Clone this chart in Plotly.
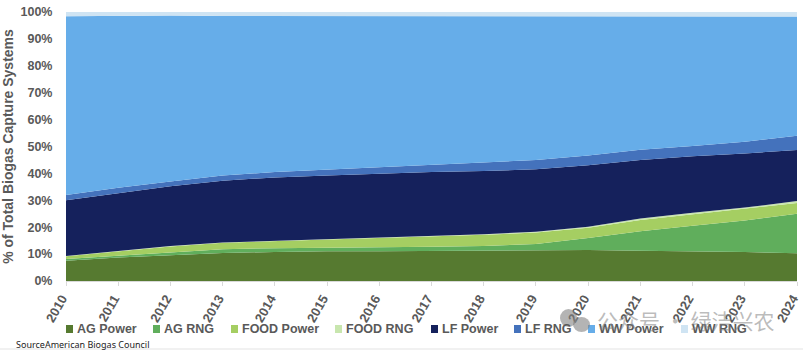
import plotly.graph_objects as go

years = [str(y) for y in range(2010, 2025)]
ag_power = [7.5, 8.7, 9.6, 10.4, 10.8, 11.1, 11.1, 11.2, 11.3, 11.5, 11.5, 11.2, 11.1, 10.8, 10.3]
ag_rng = [0.7, 0.7, 1.0, 1.4, 1.4, 1.2, 1.5, 1.5, 1.7, 2.3, 4.5, 7.3, 9.4, 11.7, 14.7]
food_power = [1.0, 1.6, 2.2, 2.4, 2.6, 3.1, 3.4, 3.8, 4.2, 4.2, 3.8, 4.2, 4.3, 4.3, 4.0]
food_rng = [0.1, 0.1, 0.2, 0.1, 0.1, 0.1, 0.1, 0.2, 0.2, 0.3, 0.4, 0.5, 0.6, 0.5, 0.7]
lf_power = [20.7, 21.6, 22.2, 23.0, 23.6, 23.7, 23.8, 23.8, 23.5, 23.2, 22.8, 21.8, 21.0, 20.1, 19.0]
lf_rng = [2.0, 2.0, 1.8, 1.9, 2.0, 2.2, 2.3, 2.5, 3.1, 3.5, 3.7, 3.8, 3.8, 4.4, 5.3]
ww_power = [66.4, 63.8, 61.7, 59.3, 58.0, 57.1, 56.3, 55.5, 54.4, 53.5, 51.8, 49.7, 48.3, 46.5, 44.3]
ww_rng = [1.6, 1.5, 1.3, 1.5, 1.5, 1.5, 1.5, 1.5, 1.6, 1.5, 1.5, 1.5, 1.5, 1.7, 1.7]

series = [
    ("AG Power", ag_power, "#567A30"),
    ("AG RNG", ag_rng, "#60AE5C"),
    ("FOOD Power", food_power, "#A5CE62"),
    ("FOOD RNG", food_rng, "#C8E6AE"),
    ("LF Power", lf_power, "#15215C"),
    ("LF RNG", lf_rng, "#4472BC"),
    ("WW Power", ww_power, "#66ADE9"),
    ("WW RNG", ww_rng, "#CFE4F3"),
]
tick_vals = list(range(0, 101, 10))
tick_text = [f"{v}%" for v in tick_vals]

GREY = "#595959"
FONT = "Liberation Sans"
PLOT_L, PLOT_T, PLOT_W, PLOT_H = 66, 12, 731, 269


def px(x):
    return (x - PLOT_L) / PLOT_W


def py(y):
    return (PLOT_T + PLOT_H - y) / PLOT_H


fig = go.Figure()
for name, vals, col in series:
    fig.add_trace(go.Scatter(
        x=years, y=vals, name=name, mode="lines", stackgroup="one", showlegend=False,
        line=dict(width=0, color=col), fillcolor=col,
    ))

# Legend drawn by hand: tiny squares sit closer to their labels than a native legend allows.
legend_x = [66, 153, 231, 335, 431, 514, 588, 681]
shapes = []
annotations = []
for (name, _, col), lx in zip(series, legend_x):
    shapes.append(dict(type="rect", xref="paper", yref="paper", x0=px(lx), x1=px(lx + 7),
                       y0=py(333), y1=py(325), fillcolor=col, line=dict(width=0)))
    annotations.append(dict(text=name, xref="paper", yref="paper", x=px(lx + 9), y=py(329),
                            xanchor="left", yanchor="middle", showarrow=False,
                            font=dict(size=12.5, family=FONT, color=GREY, weight="bold")))

shapes += [
    dict(type="line", xref="paper", yref="paper", x0=px(0), x1=px(803), y0=py(349), y1=py(349),
         line=dict(color="#E3E3E3", width=1)),
    dict(type="circle", xref="paper", yref="paper", x0=px(560), x1=px(577), y0=py(327), y1=py(309),
         fillcolor="rgba(130,130,130,0.6)", line=dict(width=0)),
    dict(type="circle", xref="paper", yref="paper", x0=px(573), x1=px(590), y0=py(332), y1=py(317),
         fillcolor="rgba(130,130,130,0.6)", line=dict(width=0)),
]
annotations += [
    dict(text="SourceAmerican Biogas Council", xref="paper", yref="paper", x=px(14), y=py(344),
         xanchor="left", yanchor="middle", showarrow=False,
         font=dict(size=9, family="Noto Sans", color="#222222")),
    dict(text="公众号 · 绿洁兴农", xref="paper", yref="paper", x=px(685), y=py(320), xanchor="center",
         yanchor="middle", showarrow=False,
         font=dict(size=21, family="Noto Sans CJK SC", color="rgba(130,130,130,0.55)")),
]

fig.update_layout(
    width=803, height=353, paper_bgcolor="white", plot_bgcolor="white",
    margin=dict(l=66, r=6, t=12, b=72, autoexpand=False),
    font=dict(family=FONT, color=GREY, size=13),
    showlegend=False,
    xaxis=dict(type="category", range=[0, 14], tickangle=-60, showgrid=False, automargin=False,
               showline=True, linecolor="#D9D9D9", ticks="outside", ticklen=4, tickcolor="#D9D9D9",
               ticklabelshift=-4,
               tickfont=dict(size=13, family=FONT, color=GREY, weight="bold")),
    yaxis=dict(range=[0, 100], tickvals=tick_vals, ticktext=tick_text, showgrid=False, automargin=False,
               zeroline=False, ticks="outside", ticklen=10, tickcolor="rgba(0,0,0,0)",
               tickfont=dict(size=12.5, family=FONT, color=GREY, weight="bold"),
               title=dict(text="% of Total Biogas Capture Systems", standoff=5,
                          font=dict(size=14, family=FONT, color=GREY, weight="bold"))),
    shapes=shapes,
    annotations=annotations,
)
# Drop the page's default body margin so the figure fills the window exactly.
fig.write_html("out.html", post_script="document.body.style.margin='0';",
               config={"displayModeBar": False})
